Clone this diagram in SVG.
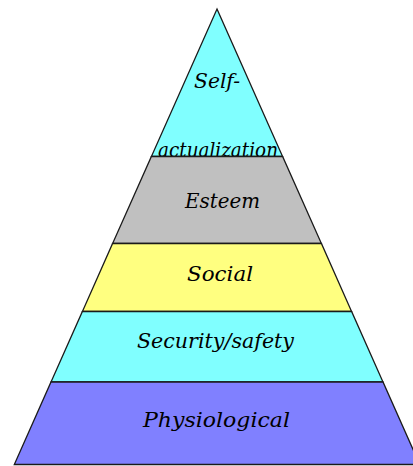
<svg xmlns="http://www.w3.org/2000/svg" width="413" height="466" viewBox="0 0 413 466">
  <style>
    .band { stroke: #1a1a1a; stroke-width: 1.3; stroke-linejoin: miter; }
    .lbl { font-family: "DejaVu Serif", "Liberation Serif", serif; font-style: italic; font-size: 21px; fill: #000; }
  </style>
  <defs>
    <!-- top band area, used to keep the wrapped second line inside the triangle -->
    <clipPath id="topClip">
      <rect x="140" y="139.5" width="160" height="17"/>
    </clipPath>
  </defs>
  <rect width="413" height="466" fill="#fff"/>

  <!-- apex at (217, 9); sides slope 0.445 px out per px down -->
  <g id="self-actualization">
    <polygon class="band" points="217,9 282.6,156.5 151.4,156.5" fill="#80ffff"/>
    <text class="lbl" x="194" y="88" textLength="46" lengthAdjust="spacingAndGlyphs">Self-</text>
    <text class="lbl" x="158" y="157" textLength="120" lengthAdjust="spacingAndGlyphs" clip-path="url(#topClip)">actualization</text>
  </g>

  <g id="esteem">
    <polygon class="band" points="151.4,156.5 282.6,156.5 321.4,243.5 112.6,243.5" fill="#c0c0c0"/>
    <text class="lbl" x="185" y="208" textLength="75" lengthAdjust="spacingAndGlyphs">Esteem</text>
  </g>

  <g id="social">
    <polygon class="band" points="112.6,243.5 321.4,243.5 351.6,311.5 82.4,311.5" fill="#ffff80"/>
    <text class="lbl" x="187" y="281" textLength="66" lengthAdjust="spacingAndGlyphs">Social</text>
  </g>

  <g id="security-safety">
    <polygon class="band" points="82.4,311.5 351.6,311.5 383,382 51,382" fill="#80ffff"/>
    <text class="lbl" x="137" y="348" textLength="157" lengthAdjust="spacingAndGlyphs">Security/safety</text>
  </g>

  <g id="physiological">
    <polygon class="band" points="51,382 383,382 419.7,464.5 14.3,464.5" fill="#8080ff"/>
    <text class="lbl" x="143" y="427" textLength="147" lengthAdjust="spacingAndGlyphs" fill="#000040">Physiological</text>
  </g>
</svg>
